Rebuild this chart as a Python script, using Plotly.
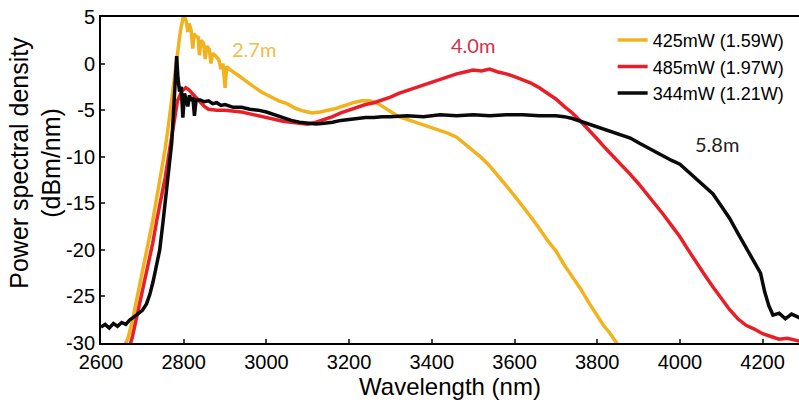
import plotly.graph_objects as go

# ---------------- data ----------------
gold_x = [2640, 2655, 2665, 2675, 2685, 2695, 2705, 2715, 2725, 2735, 2745, 2755, 2762, 2770, 2777,
          2785, 2792, 2800, 2806, 2810, 2813, 2818, 2822, 2825, 2830, 2835, 2838, 2842, 2848, 2852,
          2856, 2862, 2866, 2870, 2878, 2885, 2890, 2895, 2900, 2904, 2910, 2930, 2950, 2970, 2990,
          3010, 3030, 3050, 3070, 3090, 3110, 3130, 3150, 3170, 3190, 3210, 3230, 3250, 3270, 3290,
          3310, 3320, 3340, 3360, 3380, 3400, 3420, 3440, 3460, 3480, 3500, 3520, 3540, 3560, 3580,
          3600, 3620, 3640, 3660, 3680, 3700, 3720, 3740, 3760, 3780, 3800, 3815, 3830, 3840, 3850, 3860]
gold_y = [-31.0, -30.5, -29.5, -27.8, -25.6, -23.5, -21.6, -19.1, -16.9, -14.4, -12.1, -9.2, -7.0, -4.0, -1.5,
          1.5, 3.5, 5.2, 4.6, 3.4, 4.3, 3.6, 1.6, 3.2, 2.9, 2.8, 0.9, 2.5, 2.2, 0.5,
          1.9, 1.5, 0.0, 1.1, 0.8, 0.4, -0.6, 0.0, -2.6, -0.3, -0.6, -1.2, -1.9, -2.5, -3.1,
          -3.6, -4.0, -4.3, -4.8, -5.1, -5.3, -5.2, -5.0, -4.8, -4.5, -4.2, -4.0, -4.0, -4.3, -4.9,
          -5.4, -5.7, -6.0, -6.3, -6.6, -6.9, -7.2, -7.5, -7.9, -8.6, -9.3, -10.1, -11.0, -12.0, -13.1,
          -14.2, -15.3, -16.5, -17.7, -19.0, -20.1, -21.6, -22.9, -24.2, -25.7, -27.0, -28.1, -28.9, -29.5, -30.2, -31.0]

red_x = [2665, 2675, 2685, 2695, 2705, 2715, 2725, 2735, 2745, 2755, 2765, 2775, 2785, 2795, 2805,
         2812, 2820, 2830, 2840, 2850, 2860, 2880, 2900, 2920, 2940, 2960, 2980, 3000, 3020, 3040,
         3060, 3080, 3100, 3120, 3140, 3160, 3180, 3200, 3220, 3240, 3260, 3280, 3300, 3320, 3340,
         3360, 3380, 3400, 3420, 3440, 3460, 3480, 3500, 3520, 3540, 3560, 3580, 3600, 3620, 3640,
         3660, 3680, 3700, 3720, 3740, 3760, 3780, 3800, 3820, 3840, 3860, 3880, 3900, 3920, 3940,
         3960, 3980, 4000, 4020, 4040, 4060, 4080, 4100, 4120, 4140, 4160, 4180, 4200, 4220, 4240,
         4260, 4290]
red_y = [-31.0, -29.5, -27.5, -25.5, -23.6, -21.5, -19.3, -16.8, -14.5, -12.3, -9.5, -6.5, -4.0, -3.0, -2.6,
         -2.8, -3.2, -3.6, -4.2, -4.6, -4.9, -5.0, -5.0, -5.1, -5.2, -5.4, -5.6, -5.8, -6.0, -6.2,
         -6.3, -6.4, -6.5, -6.3, -6.0, -5.7, -5.3, -5.0, -4.7, -4.4, -4.2, -3.9, -3.6, -3.2, -2.9,
         -2.6, -2.3, -2.0, -1.7, -1.4, -1.1, -0.9, -0.7, -0.8, -0.6, -0.9, -1.1, -1.4, -1.7, -2.1,
         -2.6, -3.2, -3.8, -4.6, -5.3, -6.2, -7.1, -8.1, -9.1, -10.0, -10.9, -11.9, -12.9, -14.0, -15.0,
         -16.2, -17.4, -18.6, -20.0, -21.4, -22.7, -24.0, -25.2, -26.4, -27.4, -28.1, -28.5, -29.0, -29.3, -29.6,
         -29.5, -29.8]

black_x = [2600, 2610, 2620, 2630, 2640, 2650, 2660, 2670, 2680, 2690, 2700, 2710, 2718, 2726, 2734,
           2742, 2750, 2756, 2760, 2765, 2771, 2775, 2779, 2783, 2786, 2790, 2794, 2798, 2802, 2806,
           2810, 2814, 2818, 2822, 2826, 2830, 2840, 2850, 2860, 2870, 2880, 2890, 2900, 2920, 2940,
           2960, 2980, 3000, 3020, 3040, 3060, 3080, 3100, 3120, 3140, 3160, 3180, 3200, 3220, 3240,
           3260, 3280, 3300, 3340, 3380, 3420, 3460, 3500, 3540, 3580, 3620, 3660, 3700, 3720, 3740,
           3760, 3780, 3800, 3820, 3840, 3860, 3880, 3900, 3920, 3940, 3960, 3980, 4000, 4020, 4040,
           4060, 4080, 4100, 4120, 4140, 4160, 4180, 4195, 4205, 4215, 4225, 4240, 4255, 4270, 4290]
black_y = [-28.3, -28.0, -28.4, -27.9, -28.2, -27.8, -28.0, -27.5, -27.2, -26.9, -26.5, -25.8, -24.8, -23.4, -21.8,
           -20.0, -17.0, -14.5, -12.8, -10.5, -8.5, -5.5, -2.0, 0.8, -1.5, -3.0, -2.5, -5.8, -3.2, -3.8,
           -4.6, -3.4, -4.0, -3.6, -5.6, -3.9, -3.9, -4.1, -4.0, -4.3, -4.2, -4.5, -4.4, -4.7, -4.7,
           -4.9, -5.0, -5.2, -5.5, -5.8, -6.1, -6.3, -6.4, -6.5, -6.4, -6.3, -6.1, -6.0, -5.9, -5.8,
           -5.8, -5.7, -5.7, -5.6, -5.7, -5.5, -5.6, -5.5, -5.6, -5.5, -5.5, -5.6, -5.6, -5.7, -5.9,
           -6.2, -6.5, -6.8, -7.1, -7.4, -7.7, -8.0, -8.5, -9.0, -9.4, -9.9, -10.4, -10.8, -11.6, -12.3,
           -13.2, -14.0, -15.3, -16.6, -18.2, -19.8, -21.3, -22.5, -24.5, -26.0, -27.0, -26.8, -27.4, -26.9, -27.3]

series_names = ["425mW (1.59W)", "485mW (1.97W)", "344mW (1.21W)"]
series_colors = ["rgb(242,178,30)", "rgb(232,30,40)", "rgb(10,10,10)"]

x_ticks = [2600, 2800, 3000, 3200, 3400, 3600, 3800, 4000, 4200]
y_ticks = [5, 0, -5, -10, -15, -20, -25, -30]
y_ticktext = ["5", "0", "-5", "-10", "-15", "-20", "-25", "-30"]

labels = ["2.7m", "4.0m", "5.8m"]
label_x = [2970, 3500, 4090]
label_y = [1.6, 2.0, -8.6]
label_colors = ["rgb(240,190,70)", "rgb(205,50,75)", "rgb(30,30,30)"]

# ---------------- figure ----------------
fig = go.Figure()
for xs, ys, name, col in zip([gold_x, red_x, black_x], [gold_y, red_y, black_y], series_names, series_colors):
    fig.add_trace(go.Scatter(x=xs, y=ys, mode="lines", name=name,
                             line=dict(color=col, width=3.5)))

for t, lx, ly, c in zip(labels, label_x, label_y, label_colors):
    fig.add_annotation(x=lx, y=ly, text=t, showarrow=False,
                       font=dict(family="Lato", size=20, color=c))

fig.add_annotation(xref="paper", yref="paper", x=-0.095, y=0.552, text="Power spectral density<br>(dBm/nm)",
                   textangle=-90, showarrow=False, xanchor="center", yanchor="middle",
                   font=dict(family="Liberation Sans", size=25, color="black"))

fig.update_layout(
    width=799, height=404,
    margin=dict(l=101, r=0, t=17, b=61),
    paper_bgcolor="white", plot_bgcolor="white",
    font=dict(family="Liberation Sans", color="black"),
    showlegend=True,
    legend=dict(x=0.733, y=0.985, xanchor="left", yanchor="top", bgcolor="rgba(0,0,0,0)",
                font=dict(size=18, family="Liberation Sans"), tracegroupgap=0, itemwidth=30),
    xaxis=dict(range=[2600, 4288], tickvals=x_ticks, ticks="inside", ticklen=4, tickwidth=2,
               showline=True, linecolor="black", linewidth=2, mirror=True, showgrid=False, zeroline=False,
               tickfont=dict(size=20), title=dict(text="Wavelength (nm)", font=dict(size=24), standoff=5)),
    yaxis=dict(range=[-30, 5], tickvals=y_ticks, ticktext=y_ticktext, ticks="inside", ticklen=4, tickwidth=2,
               showline=True, linecolor="black", linewidth=2, mirror=False, showgrid=False, zeroline=False,
               tickfont=dict(size=20)),
)

fig.write_html("out.html")
